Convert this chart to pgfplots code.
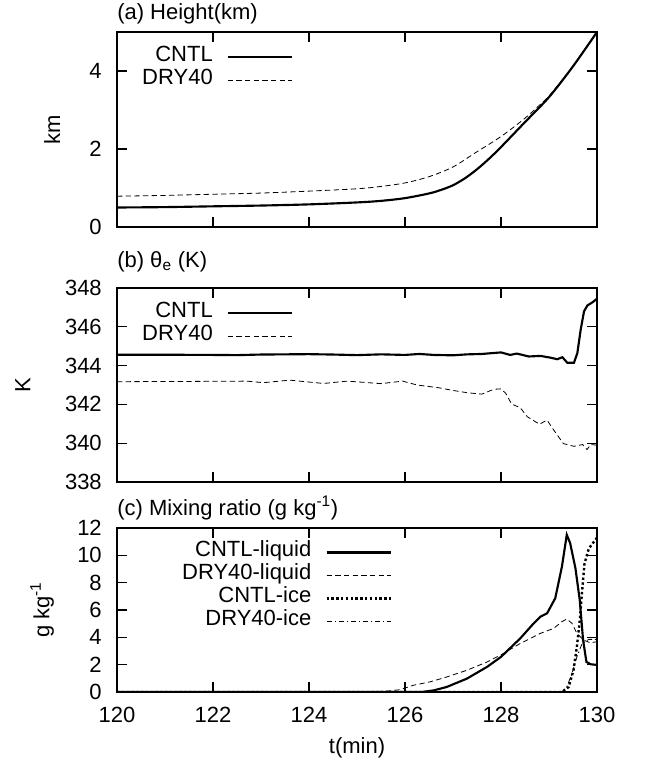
\documentclass[border=0pt]{standalone}
\usepackage{fontspec}
\setmainfont{Liberation Sans}
\usepackage{pgfplots}
\pgfplotsset{compat=1.18}

\pgfplotsset{
  every axis/.append style={
    scale only axis, width=360pt,
    xmin=120, xmax=130, xtick={120,122,...,130},
    axis line style={line width=0.9pt},
    every tick/.style={black, line width=0.9pt},
    major tick length=7.5pt,
    /pgf/number format/assume math mode=true,
    yticklabel style={inner sep=0pt, xshift=-11.25pt},
    xticklabel style={inner sep=0pt, yshift=-11.25pt},
    title style={at={(axis description cs:0,1)}, anchor=base west, inner sep=0pt},
    no markers,
    legend plot pos=right,
    legend cell align=right,
    legend style={draw=none, fill=none, inner sep=0pt, row sep=0pt, column sep=10.5pt,
      nodes={inner sep=0pt, text height=12pt, text depth=5.25pt}},
    legend image code/.code={\draw[#1] (0pt,0pt) -- (48pt,0pt);},
  },
  cntl/.style={black, line width=1.6pt},
  dry/.style={black, line width=0.6pt, dash pattern=on 4pt off 2.5pt},
  ice/.style={black, line width=1.8pt, dash pattern=on 1.8pt off 1.8pt},
  dryice/.style={black, line width=0.6pt, dash pattern=on 4pt off 2pt on 1pt off 2pt},
}

\begin{document}
\fontsize{16.5}{19.8}\selectfont
\begin{tikzpicture}
\useasboundingbox (-87.75pt,0pt) rectangle (397.5pt,-574.5pt);

% (a) height
\begin{axis}[
  at={(0pt,-24pt)}, anchor=north west, height=146.25pt,
  ymin=0, ymax=5, ytick={0,2,4},
  xticklabel=\empty,
  ylabel={km},
  ylabel style={at={(axis description cs:-0.135,0.5)}, anchor=center},
  title={(a) Height(km)}, title style={yshift=3.5pt},
  legend style={at={(axis description cs:0.367,1)}, anchor=north east, yshift=-10pt},
]
\addplot[cntl, smooth] coordinates {
(120,0.50) (121,0.51) (122,0.53) (123,0.55) (124,0.58) (125,0.63) (125.5,0.67)
(126,0.74) (126.5,0.86) (126.75,0.95) (127,1.07) (127.25,1.25) (127.5,1.48)
(127.75,1.75) (128,2.05) (128.5,2.69) (129,3.33) (129.5,4.12) (130,5.00)};
\addplot[dry, smooth] coordinates {
(120,0.79) (121,0.81) (122,0.84) (123,0.87) (124,0.92) (125,0.98) (125.5,1.04)
(126,1.13) (126.5,1.29) (127,1.54) (127.5,1.93) (128,2.32) (128.5,2.79)
(128.85,3.18) (129,3.36) (129.5,4.12) (130,5.00)};
\legend{CNTL, DRY40}
\end{axis}

% (b) theta_e
\begin{axis}[
  at={(0pt,-216pt)}, anchor=north west, height=145.5pt,
  ymin=338, ymax=348, ytick={338,340,...,348},
  xticklabel=\empty,
  ylabel={K},
  ylabel style={at={(axis description cs:-0.196,0.5)}, anchor=center},
  title={(b) θ\textsubscript{e} (K)}, title style={yshift=9.75pt},
  legend style={at={(axis description cs:0.367,1)}, anchor=north east, yshift=-10pt},
]
\addplot[cntl] coordinates {
(120,344.56) (121,344.56) (122,344.55) (122.5,344.54) (123,344.57) (123.5,344.58)
(124,344.59) (124.5,344.57) (125,344.54) (125.5,344.58) (126,344.55) (126.3,344.60)
(126.6,344.55) (127,344.53) (127.3,344.58) (127.6,344.60) (128,344.68) (128.19,344.55)
(128.33,344.62) (128.58,344.47) (128.82,344.50) (129.03,344.41) (129.17,344.33)
(129.28,344.43) (129.38,344.15) (129.52,344.15) (129.59,344.64) (129.66,345.85)
(129.73,346.80) (129.80,347.10) (129.91,347.27) (130,347.45)};
\addplot[dry] coordinates {
(120,343.17) (121,343.18) (122,343.19) (122.7,343.20) (123.05,343.12) (123.6,343.25)
(124.3,343.08) (124.8,343.20) (125.5,343.07) (125.95,343.20) (126.25,343.00)
(126.7,342.86) (127.0,342.72) (127.3,342.60) (127.6,342.53) (127.85,342.78)
(128.0,342.80) (128.1,342.57) (128.22,342.02) (128.4,341.83) (128.55,341.36)
(128.8,340.98) (128.96,341.19) (129.1,340.67) (129.3,339.98) (129.52,339.84)
(129.7,339.93) (129.79,339.67) (129.87,339.93) (130,339.90)};
\legend{CNTL, DRY40}
\end{axis}

% (c) mixing ratio
\begin{axis}[
  at={(0pt,-396pt)}, anchor=north west, height=123pt,
  ymin=0, ymax=12, ytick={0,2,...,12},
  ylabel={g kg\textsuperscript{-1}},
  ylabel style={at={(axis description cs:-0.156,0.5)}, anchor=center},
  xlabel={t(min)},
  xlabel style={at={(axis description cs:0.5,0)}, anchor=center, yshift=-42pt},
  title={(c) Mixing ratio (g kg\textsuperscript{-1})}, title style={yshift=3.75pt},
  legend style={at={(axis description cs:0.573,1)}, anchor=north east, yshift=-9.5pt},
]
\addplot[cntl] coordinates {
(120,0) (126.35,0) (126.6,0.12) (126.87,0.37) (127.29,0.98) (127.71,1.84) (128,2.57)
(128.4,3.92) (128.68,5.02) (128.82,5.51) (128.96,5.76) (129.13,6.86) (129.27,9.19)
(129.37,11.5) (129.44,10.9) (129.55,9.07) (129.64,6.74) (129.71,3.80) (129.78,2.20)
(129.87,2.03) (130,1.98)};
\addplot[dry] coordinates {
(120,0) (124.8,0) (125.3,0.02) (125.6,0.06) (125.9,0.17) (126.17,0.49) (126.52,0.74)
(126.87,1.10) (127.29,1.59) (127.71,2.20) (128,2.72) (128.4,3.55) (128.82,4.29)
(129.1,4.66) (129.27,5.15) (129.37,5.34) (129.48,5.02) (129.58,4.29) (129.72,3.80)
(129.86,3.60) (130,3.68)};
\addplot[ice] coordinates {
(120,0) (129.27,0) (129.41,0.37) (129.51,1.60) (129.58,3.30) (129.64,5.20)
(129.69,7.40) (129.74,9.40) (129.83,10.50) (130,11.30)};
\addplot[dryice] coordinates {
(120,0) (129.27,0) (129.37,0.37) (129.48,1.35) (129.58,2.57) (129.69,3.55)
(129.83,3.85) (130,3.85)};
\legend{CNTL-liquid, DRY40-liquid, CNTL-ice, DRY40-ice}
\end{axis}
\end{tikzpicture}
\end{document}
